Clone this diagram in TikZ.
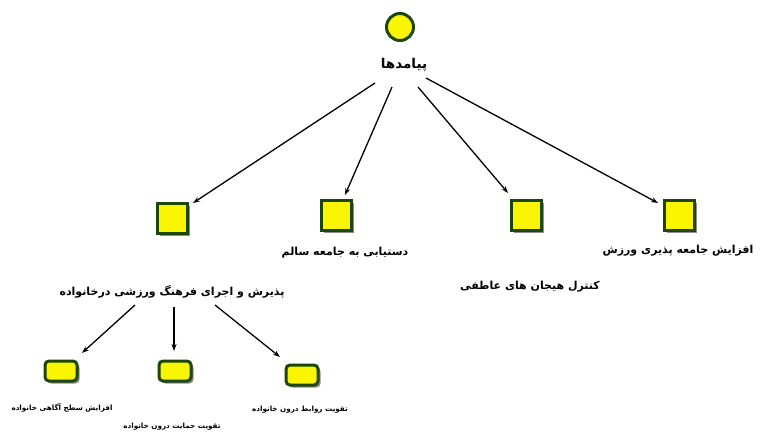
\documentclass[tikz,border=0pt]{standalone}
\usepackage{fontspec}
\setmainfont{DejaVu Sans}
\newfontfamily\arabicfont[Script=Arabic]{DejaVu Sans}
\TeXXeTstate=1
\usetikzlibrary{shadows,arrows.meta}
\definecolor{dgreen}{RGB}{28,70,10}
\definecolor{yel}{RGB}{250,245,0}
\tikzset{
  sqbox/.style={draw=dgreen, line width=3pt, fill=yel, minimum size=30pt, inner sep=0pt,
     drop shadow={shadow xshift=2.5pt, shadow yshift=-2.5pt, fill=black!45, opacity=1}},
  smbox/.style={draw=dgreen, line width=3pt, fill=yel, minimum width=32pt, minimum height=20pt,
     inner sep=0pt, rounded corners=4pt,
     drop shadow={shadow xshift=2.5pt, shadow yshift=-2.5pt, fill=black!45, opacity=1}},
  topcirc/.style={circle, draw=dgreen, line width=3pt, fill=yel, minimum size=27pt, inner sep=0pt},
  lbl/.style={inner sep=1pt, font=\arabicfont\bfseries\fontsize{11}{13}\selectfont},
  toplbl/.style={inner sep=1pt, font=\arabicfont\bfseries\fontsize{13.5}{15}\selectfont},
  smlbl/.style={inner sep=1pt, font=\arabicfont\bfseries\fontsize{7.2}{9}\selectfont},
  arr/.style={-{Stealth[length=7pt,width=5pt]}, line width=1.3pt, black}
}
\begin{document}
\begin{tikzpicture}[x=1pt,y=-1pt]
\useasboundingbox (0,0) rectangle (760,437);
% top
\node[topcirc] (top) at (400,27) {};
\node[toplbl] (toplbl) at (404,65) {\beginR پیامدها\endR};
% second row
\node[sqbox] (s1) at (172,218) {};
\node[sqbox] (s2) at (336,215) {};
\node[sqbox] (s3) at (526,215) {};
\node[sqbox] (s4) at (679,215) {};
\node[lbl] (l2) at (345,253) {\beginR دستیابی به جامعه سالم\endR};
\node[lbl] (l4) at (678,251) {\beginR افزایش جامعه پذیری ورزش\endR};
\node[lbl] (l3) at (530,287) {\beginR کنترل هیجان های عاطفی\endR};
\node[lbl] (l1) at (172,292) {\beginR پذیرش و اجرای فرهنگ ورزشی درخانواده\endR};
% third row
\node[smbox] (b1) at (61,371) {};
\node[smbox] (b2) at (175,371) {};
\node[smbox] (b3) at (302,375) {};
\node[smlbl] (m1) at (62,408) {\beginR افزایش سطح آگاهی خانواده\endR};
\node[smlbl] (m2) at (172,427) {\beginR تقویت حمایت درون خانواده\endR};
\node[smlbl] (m3) at (300,410) {\beginR تقویت روابط درون خانواده\endR};
% arrow start points
\coordinate (t1) at (375,83);
\coordinate (t2) at (392,87);
\coordinate (t3) at (418,87);
\coordinate (t4) at (426,78);
\coordinate (u1) at (135,305);
\coordinate (u2) at (174,307);
\coordinate (u3) at (215,305);
\coordinate (e1) at (193,203);
\coordinate (e2) at (345,195);
\coordinate (e3) at (508,193);
\coordinate (e4) at (658,203);
\coordinate (f1) at (82,353);
\coordinate (f2) at (174,351);
\coordinate (f3) at (280,357);
\draw[arr] (t1) -- (e1);
\draw[arr] (t2) -- (e2);
\draw[arr] (t3) -- (e3);
\draw[arr] (t4) -- (e4);
\draw[arr] (u1) -- (f1);
\draw[arr] (u2) -- (f2);
\draw[arr] (u3) -- (f3);
\end{tikzpicture}
\end{document}
